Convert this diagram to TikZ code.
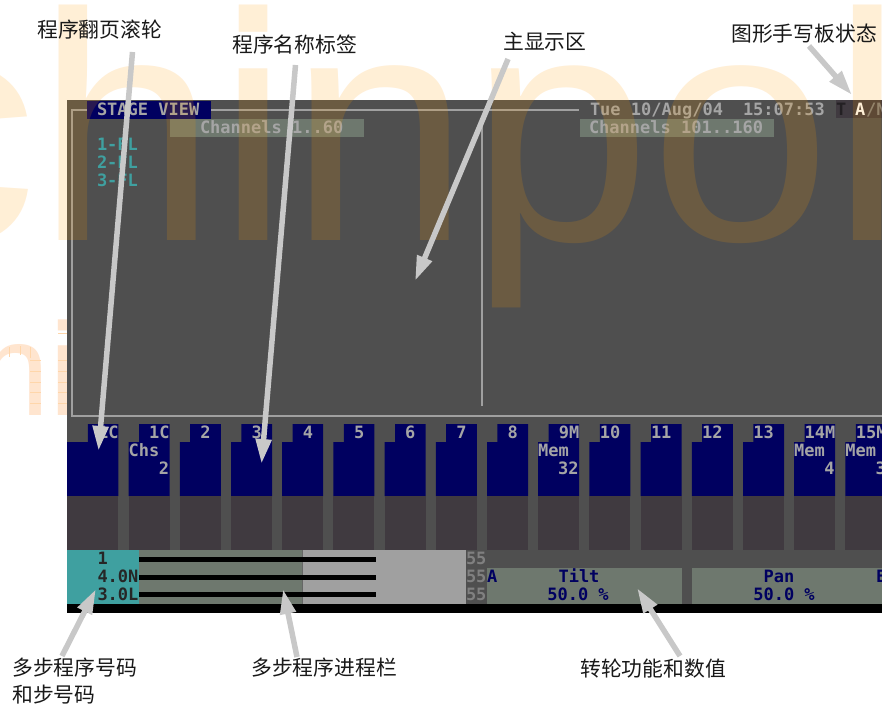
\documentclass[tikz,border=0pt]{standalone}
\usepackage{fontspec}
\setmainfont{Liberation Sans}
\newfontfamily\scrf{DejaVu Sans Mono}
\newfontfamily\cjk{Noto Sans CJK SC}
\usetikzlibrary{arrows.meta}
\definecolor{scrbg}{RGB}{79,79,79}
\definecolor{navyb}{RGB}{0,0,96}
\definecolor{darkb}{RGB}{64,58,64}
\definecolor{teal2}{RGB}{63,160,160}
\definecolor{sage}{RGB}{110,120,110}
\definecolor{ltg}{RGB}{160,160,160}
\definecolor{txtg}{RGB}{165,165,165}
\definecolor{wm}{RGB}{255,156,0}
\definecolor{peach}{RGB}{255,229,207}
\definecolor{peachl}{RGB}{255,214,170}
\definecolor{arrowg}{RGB}{200,200,200}
\tikzset{
  scr/.style={font=\scrf\bfseries\fontsize{17}{17}\selectfont,inner sep=0pt,outer sep=0pt,anchor=base west,text=txtg},
  scrr/.style={scr,anchor=base east},
  scrc/.style={scr,anchor=base},
  label/.style={font=\cjk\fontsize{20.8}{20.8}\selectfont,inner sep=0pt,anchor=west,text=black!90},
  callout/.style={draw=arrowg,line width=5.5pt,-{Triangle[length=25pt,width=15pt]}},
  frameline/.style={draw=ltg,line width=1.8pt},
}
\begin{document}
\begin{tikzpicture}[x=1pt,y=-1pt]
\path[use as bounding box,clip] (0,0) rectangle (882,704);
\fill[white] (0,0) rectangle (882,704);
% small watermark
\node[anchor=base west,inner sep=0pt,text=peach,font=\fontsize{132}{132}\selectfont] (wmsmall) at (-24,415) {hi};
\foreach \yy in {360,371,382,392,403} {
  \draw[peachl,line width=.7pt] (30,\yy) -- (41,\yy);
  \draw[peachl,line width=.7pt] (58,\yy) -- (67,\yy);
}
\draw[peachl,line width=.7pt] (58,333) -- (67,333);
\draw[peachl,line width=.7pt] (9,347) -- (9,357) (20,346) -- (20,355) (30,347) -- (30,358);
% screen
\fill[scrbg] (67,100) rectangle (882,604);
\fill[black] (67,604) rectangle (882,613);
% frame
\draw[frameline] (87,110) -- (72,110) -- (72,416) -- (882,416);
\draw[frameline] (211,110) -- (579,110);
\draw[frameline] (482,119) -- (482,406);
% header
\fill[navyb] (87,101) rectangle (211,119);
\node[scr] (stage) at (97,115) {STAGE VIEW};
\fill[sage] (170,119) rectangle (364,137);
\node[scr] (ch1) at (200,133) {Channels 1..60};
\fill[sage] (580,119) rectangle (774,137);
\node[scr] (ch2) at (589,133) {Channels 101..160};
\node[scr] (clock) at (590,115) {Tue 10/Aug/04};
\node[scr] (time) at (743,115) {15:07:53};
\fill[darkb] (836,100) rectangle (882,118);
\node[scr,text=black!45!darkb] (tabT) at (836,115) {T};
\node[scr,text=white] (tabA) at (855,115) {A};
\node[scr,text=gray] (tabS) at (866,115) {/N};
\node[scr,text=teal2] (fl1) at (97,150) {1-FL};
\node[scr,text=teal2] (fl2) at (97,168) {2-FL};
\node[scr,text=teal2] (fl3) at (97,186) {3-FL};
% fader columns
\foreach \n/\lab/\off/\word/\val in {0/1C/1//,1/1C/1/Chs/2,2/2/1//,3/3/1//,4/4/1//,5/5/1//,6/6/1//,7/7/1//,8/8/1//,9/9M/1/Mem/32,10/10/0//,11/11/0//,12/12/0//,13/13/0//,14/14M/0/Mem/4,15/15M/0/Mem/3} {
  \pgfmathsetmacro{\L}{77.4+51.2*\n}
  \pgfmathsetmacro{\T}{\L+10.4}
  \pgfmathsetmacro{\R}{\L+41}
  \pgfmathsetmacro{\B}{\n==0 ? 67 : \L}
  \pgfmathsetmacro{\X}{\T+10.23*\off}
  \fill[navyb] (\B,496) -- (\B,442) -- (\T,442) -- (\T,424) -- (\R,424) -- (\R,496) -- cycle;
  \fill[darkb] (\B,496) rectangle (\R,550);
  \node[scr] (tab\n) at (\X,438) {\lab};
  \node[scr] (word\n) at (\L,456) {\word};
  \node[scrr] (val\n) at (\R-0.5,474) {\val};
}
% bottom bar
\fill[teal2] (67,550) rectangle (139,604);
\fill[sage] (139,550) rectangle (302,604);
\fill[ltg] (302,550) rectangle (466,604);
\draw[black!60,line width=1pt] (302,550) -- (302,604);
\foreach \yy in {557,575,592} \fill[black] (139,\yy) rectangle (376,\yy+5);
\foreach \yy/\t in {564/1,582/4.0N,600/3.0L}
  \node[scr,text=black!85] (step\yy) at (97.5,\yy) {\t};
\foreach \yy in {564,582,600}
  \node[scr,text=gray] (ff\yy) at (466,\yy) {55};
\fill[sage] (487,568) rectangle (682,604);
\fill[sage] (692,568) rectangle (882,604);
\tikzset{whl/.style={scrc,text=navyb}}
\node[whl,anchor=base west] (wa) at (487,582) {A};
\node[whl] (wtilt) at (579,582) {Tilt};
\node[whl] (wtv) at (578,600) {50.0 \%};
\node[whl] (wpan) at (779,582) {Pan};
\node[whl] (wpv) at (784,600) {50.0 \%};
\node[whl,anchor=base west] (we) at (876,582) {E};
% big watermark overlay
\node[anchor=base west,inner sep=0pt,text=wm,text opacity=.16,font=\fontsize{325}{325}\selectfont] (wmbig) at (-126,240) {chinpol};
% labels
\node[label] (l1) at (37,30) {程序翻页滚轮};
\node[label] (l2) at (232,45) {程序名称标签};
\node[label] (l3) at (503,42) {主显示区};
\node[label] (l4) at (731,34) {图形手写板状态};
\node[label] (l5) at (12,668) {多步程序号码};
\node[label] (l5b) at (12,695) {和步号码};
\node[label] (l6) at (251,668) {多步程序进程栏};
\node[label] (l7) at (580,669) {转轮功能和数值};
% callouts
\coordinate (a1s) at (132.5,52); \coordinate (a1e) at (98.5,451);
\coordinate (a2s) at (295.5,65); \coordinate (a2e) at (261.5,464);
\coordinate (a3s) at (508,59);  \coordinate (a3e) at (415,281);
\coordinate (a4s) at (809,46);  \coordinate (a4e) at (852,95);
\coordinate (a5s) at (62,656);  \coordinate (a5e) at (96,589);
\coordinate (a6s) at (297,657); \coordinate (a6e) at (283,589);
\coordinate (a7s) at (680,656); \coordinate (a7e) at (637,588);
\foreach \k in {1,...,7} \draw[callout] (a\k s) -- (a\k e);
\end{tikzpicture}
\end{document}
